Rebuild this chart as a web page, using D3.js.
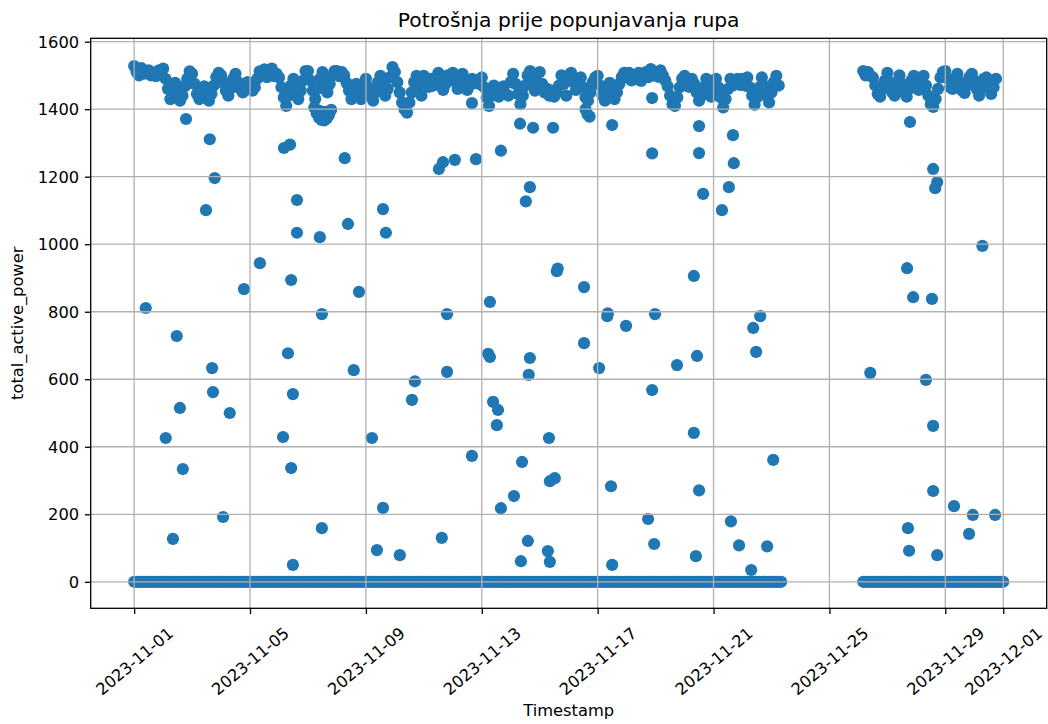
<!DOCTYPE html>
<html><head><meta charset="utf-8">
<script src="https://cdn.jsdelivr.net/npm/d3@7"></script>
<style>
body{margin:0;background:#fff}
svg{display:block}
text{font-family:"DejaVu Sans",sans-serif;fill:#000}
</style>
</head><body>
<svg id="chart" width="1048" height="724"></svg>
<script>
// ---------------- data ----------------
const chartTitle = "Potrošnja prije popunjavanja rupa";
const xLabel = "Timestamp";
const yLabel = "total_active_power";
const xTickDates = ["2023-11-01","2023-11-05","2023-11-09","2023-11-13","2023-11-17","2023-11-21","2023-11-25","2023-11-29","2023-12-01"];
const yTickValues = [0,200,400,600,800,1000,1200,1400,1600];

// readings are logged every 2 hours
const sampleHours = 2;

// periods in which the meter reported 0 (device idle)
const idleRuns = [["2023-11-01T00:00","2023-11-23T08:00"],["2023-11-26T04:00","2023-12-01T00:00"]];

// "on" readings, first logging run (2 h steps)
const onStartA = "2023-11-01T00:00";
const onValuesA = [
 1528,1510,1500,1522,1505,1512,1515,1500,1508,1498,1514,1503,
 1520,1490,1460,1430,1455,1478,1450,1425,1440,1468,1490,1512,
 1505,1475,1445,1430,1450,1468,1440,1425,1445,1470,1495,1508,
 1500,1478,1455,1440,1462,1490,1505,1480,1460,1450,1472,1480,
 1475,1455,1465,1490,1512,1500,1518,1495,1510,1520,1498,1505,
 1494,1465,1435,1410,1440,1470,1490,1460,1430,1455,1485,1513,
 1513,1485,1455,1430,1460,1490,1510,1480,1450,1475,1500,1513,
 1513,1498,1510,1500,1478,1455,1430,1450,1475,1445,1430,1460,
 1490,1465,1440,1425,1450,1480,1499,1470,1440,1460,1495,1525,
 1510,1480,1450,1420,1400,1390,1420,1450,1480,1499,1470,1440,
 1499,1480,1466,1490,1470,1485,1508,1480,1457,1475,1500,1485,
 1508,1485,1460,1480,1505,1478,1457,1470,1490,1478,1485,1475,
 1494,1465,1435,1410,1440,1470,1455,1437,1460,1468,1445,1440,
 1480,1505,1475,1445,1415,1440,1470,1500,1513,1485,1455,1480,
 1510,1475,1450,1460,1440,1455,1437,1450,1470,1500,1475,1440,
 1500,1508,1480,1457,1485,1494,1465,1435,1425,1450,1480,1494,
 1499,1470,1440,1425,1450,1478,1455,1430,1450,1475,1495,1508,
 1495,1508,1485,1500,1490,1508,1484,1500,1510,1495,1519,1500,
 1510,1496,1515,1500,1485,1468,1440,1415,1410,1435,1465,1490,
 1499,1480,1466,1490,1475,1450,1425,1440,1465,1490,1465,1437,
 1460,1490,1465,1435,1405,1430,1460,1490,1470,1480,1490,1472,
 1490,1470,1494,1465,1440,1413,1435,1465,1494,1470,1440,1420,
 1450,1480,1499,1470
];

// "on" readings, second logging run (2 h steps)
const onStartB = "2023-11-26T04:00";
const onValuesB = [
 1513,1500,1510,1499,
 1494,1470,1445,1437,1460,1485,
 1508,1480,1450,1440,1470,1500,
 1475,1450,1437,1460,1485,1499,
 1480,1457,1475,1499,1470,1440,
 1415,1407,1430,1460,1494,1510,
 1513,1490,1465,1460,1485,1505,
 1480,1455,1448,1470,1495,1505,
 1485,1460,1440,1462,1490,1494,
 1470,1445,1465,1490
];

// individual readings away from the two bands: [days after 2023-11-01 00:00, value]
const otherReadings = [
 [0.40,811],[1.09,426],[1.34,127],[1.47,728],[1.58,515],[1.68,334],[1.79,1371],[2.48,1101],[2.61,1311],
 [2.69,633],[2.72,562],[2.78,1196],[3.07,192],[3.30,500],[3.79,867],[4.34,944],[5.14,429],[5.17,1285],
 [5.38,1295],[5.31,677],[5.42,894],[5.42,337],[5.48,556],[5.48,50],[5.62,1131],[5.62,1034],[6.41,1021],
 [6.48,793],[6.48,159],
 [6.22,1405],[6.30,1388],[6.38,1375],[6.47,1368],[6.56,1367],[6.64,1372],[6.72,1382],[6.80,1398],[6.40,1395],[6.58,1392],
 [7.27,1255],[7.38,1060],[7.58,627],[7.76,859],[8.21,426],[8.38,94],[8.59,1104],[8.59,219],[8.69,1034],
 [9.17,79],[9.59,539],[9.69,594],[10.52,1223],[10.66,1243],[10.62,130],[10.80,793],[10.80,622],[11.07,1250],
 [11.66,373],[11.66,1418],[11.80,1252],[12.22,675],[12.28,829],[12.28,666],[12.39,533],[12.56,509],[12.52,464],
 [12.66,1277],[12.66,218],[13.11,254],[13.32,1357],[13.35,61],[13.39,355],[13.52,1127],[13.66,1169],[13.66,663],
 [13.62,613],[13.59,121],[13.77,1345],[14.28,91],[14.32,426],[14.35,59],[14.35,298],[14.46,1345],[14.52,307],
 [14.59,920],[14.62,928],[15.53,873],[15.53,707],[15.58,1400],[15.65,1385],[15.72,1378],[16.05,633],[16.33,787],
 [16.35,795],[16.50,1353],[16.46,283],[16.50,50],[16.98,758],[17.74,186],[17.88,1269],[17.88,1433],[17.98,793],
 [17.88,568],[17.95,112],[18.74,642],[19.32,906],[19.32,441],[19.39,76],[19.43,669],[19.50,1350],[19.50,1270],
 [19.50,271],[19.64,1149],[20.29,1101],[20.53,1169],[20.60,179],[20.67,1323],[20.70,1240],[20.88,108],[21.37,752],
 [21.47,681],[21.30,35],[21.61,787],[21.85,105],[22.06,361],
 [25.41,619],[26.68,929],[26.71,159],[26.75,92],[26.78,1362],[26.89,843],[27.33,598],[27.54,838],[27.58,462],
 [27.58,1223],[27.65,1166],[27.72,1184],[27.58,269],[27.72,79],[28.30,224],[28.82,142],[28.95,198],[29.28,995],
 [29.72,198]
];

// ---------------- build point table ----------------
const HOUR = 3600e3, DAY = 86400e3;
const parse = s => new Date(s + (s.length <= 10 ? "T00:00:00Z" : ":00Z"));
const origin = parse("2023-11-01");
const points = [];
idleRuns.forEach(([a, b]) => {
  const t0 = parse(a).getTime(), t1 = parse(b).getTime();
  for (let t = t0; t <= t1; t += sampleHours * HOUR) points.push([new Date(t), 0]);
});
[[onStartA, onValuesA], [onStartB, onValuesB]].forEach(([s, vals]) => {
  const t0 = parse(s).getTime();
  vals.forEach((v, i) => points.push([new Date(t0 + i * sampleHours * HOUR), v]));
});
otherReadings.forEach(([d, v]) => points.push([new Date(origin.getTime() + d * DAY), v]));
points.sort((a, b) => a[0] - b[0]);

// ---------------- layout ----------------
const L = 90.7, R = 1046.7, T = 38.3, B = 608.3;
const svg = d3.select("#chart");
const x = d3.scaleUtc()
  .domain([parse("2023-10-30T12:00"), parse("2023-12-02T12:00")])
  .range([L, R]);
const y = d3.scaleLinear().domain([-78.5, 1610]).range([B, T]);

const blue = "#1f77b4";
const fs = 16.3;

// points
svg.append("g").selectAll("circle").data(points).join("circle")
  .attr("cx", d => x(d[0])).attr("cy", d => y(d[1])).attr("r", 6.1)
  .attr("fill", blue);

// grid (drawn above the markers, as in matplotlib)
const xTicks = xTickDates.map(parse);
const grid = svg.append("g").attr("stroke", "#b0b0b0").attr("stroke-width", 1.3);
grid.selectAll("line.gx").data(xTicks).join("line")
  .attr("x1", d => x(d)).attr("x2", d => x(d)).attr("y1", T).attr("y2", B);
grid.selectAll("line.gy").data(yTickValues).join("line")
  .attr("y1", d => y(d)).attr("y2", d => y(d)).attr("x1", L).attr("x2", R);

// axes
const xAxis = d3.axisBottom(x).tickValues(xTicks).tickSize(5.8).tickPadding(0)
  .tickFormat(d3.utcFormat("%Y-%m-%d"));
const gx = svg.append("g").attr("transform", `translate(0,${B})`).call(xAxis);
gx.select(".domain").remove();
gx.selectAll(".tick line").attr("stroke", "#000").attr("stroke-width", 1.3);
gx.selectAll(".tick text")
  .attr("font-size", fs).attr("font-family", "DejaVu Sans")
  .attr("text-anchor", "middle").attr("dy", null)
  .attr("dominant-baseline", "central")
  .attr("y", 53).attr("transform", "rotate(-40,0,53)");

const yAxis = d3.axisLeft(y).tickValues(yTickValues).tickSize(5.8).tickPadding(5.8)
  .tickFormat(d3.format("d"));
const gy = svg.append("g").attr("transform", `translate(${L},0)`).call(yAxis);
gy.select(".domain").remove();
gy.selectAll(".tick line").attr("stroke", "#000").attr("stroke-width", 1.3);
gy.selectAll(".tick text").attr("font-size", fs).attr("font-family", "DejaVu Sans")
  .attr("dy", null).attr("dominant-baseline", "central");

// frame
svg.append("rect").attr("x", L).attr("y", T).attr("width", R - L).attr("height", B - T)
  .attr("fill", "none").attr("stroke", "#000").attr("stroke-width", 1.3);

// labels
svg.append("text").attr("x", (L + R) / 2).attr("y", 27).attr("text-anchor", "middle")
  .attr("font-size", 20.3).text(chartTitle);
svg.append("text").attr("x", (L + R) / 2).attr("y", 716).attr("text-anchor", "middle")
  .attr("font-size", fs).text(xLabel);
svg.append("text").attr("transform", `translate(23,${(T + B) / 2}) rotate(-90)`)
  .attr("text-anchor", "middle").attr("font-size", fs).text(yLabel);
</script>
</body></html>
